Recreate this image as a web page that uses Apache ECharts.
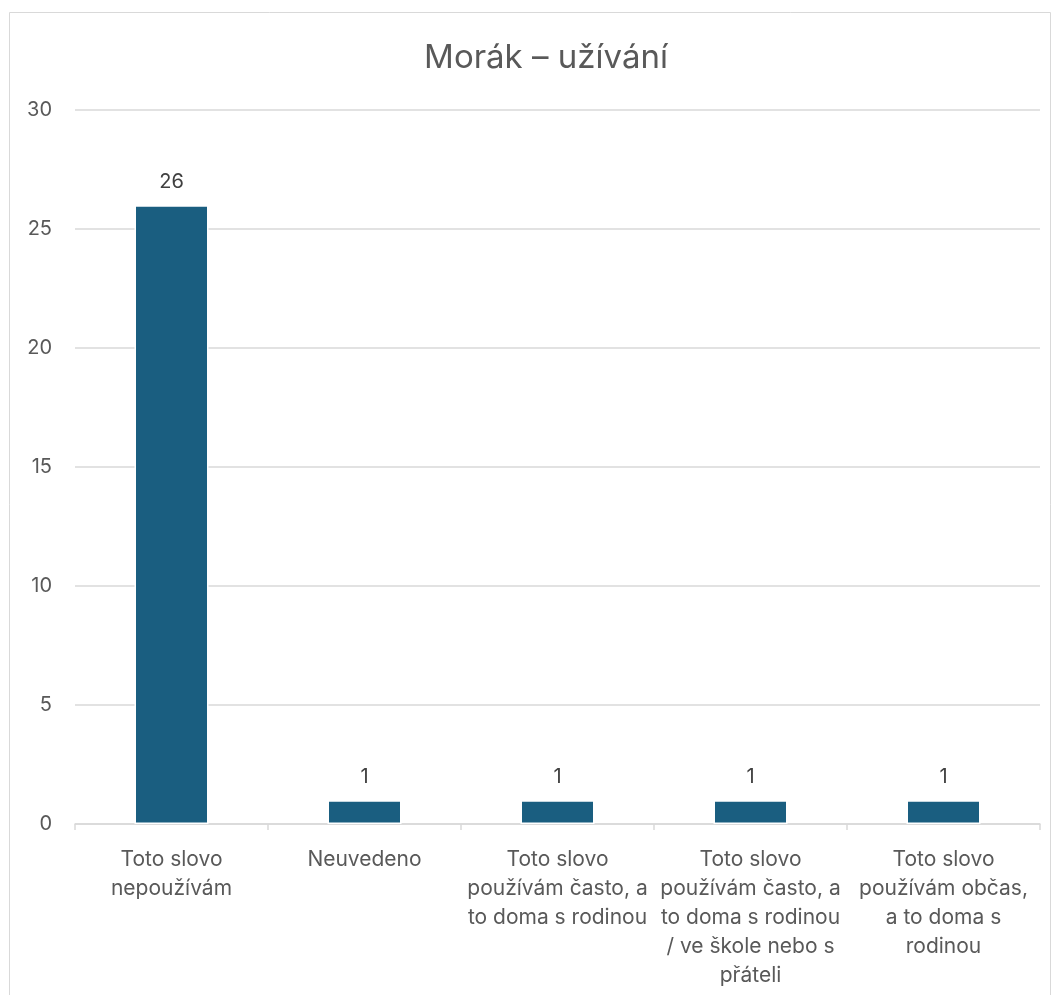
<!DOCTYPE html>
<html><head><meta charset="utf-8">
<script src="https://cdn.jsdelivr.net/npm/echarts@6/dist/echarts.min.js"></script>
<style>html,body{margin:0;padding:0;background:#fff}#c{width:1057px;height:995px}</style>
</head><body><div id="c"></div>
<script>
const titleText = 'Morák – užívání';
const categories = [
  'Toto slovo\nnepoužívám',
  'Neuvedeno',
  'Toto slovo\npoužívám často, a\nto doma s rodinou',
  'Toto slovo\npoužívám často, a\nto doma s rodinou\n/ ve škole nebo s\npřáteli',
  'Toto slovo\npoužívám občas,\na to doma s\nrodinou'
];
const values = [26, 1, 1, 1, 1];

const FONT = 'Inter, "Noto Sans", sans-serif';
const chart = echarts.init(document.getElementById('c'));
chart.setOption({
  animation: false,
  backgroundColor: '#fff',
  graphic: [{type:'rect', shape:{x:9.5,y:12.5,width:1041,height:1000}, style:{fill:'none', stroke:'#d9d9d9', lineWidth:1}, silent:true}],
  title: {text: titleText, left: 541, textAlign:'center', top: 37, textStyle:{fontFamily:FONT, fontSize:33, fontWeight:'normal', color:'#595959'}},
  grid: {left: 75, right: 17, top: 110, bottom: 171, containLabel:false},
  xAxis: {
    type:'category', data: categories,
    axisLine:{lineStyle:{color:'#d9d9d9', width:1.5}},
    axisTick:{show:true, length:6, alignWithLabel:false, lineStyle:{color:'#d9d9d9', width:1.5}},
    axisLabel:{interval:0, margin:21, color:'#595959', fontSize:21, lineHeight:29, fontFamily:FONT, align:'center'}
  },
  yAxis: {
    type:'value', min:0, max:30, interval:5,
    axisLine:{show:false}, axisTick:{show:false},
    splitLine:{lineStyle:{color:'#d9d9d9', width:1.5}},
    axisLabel:{margin:23, color:'#595959', fontSize:20, fontFamily:FONT}
  },
  series: [{
    type:'bar', data: values, barWidth:74,
    itemStyle:{color:'#1a5e80', borderColor:'#ffffff', borderWidth:1.5},
    label:{show:true, position:'top', distance:13, color:'#404040', fontSize:20, fontFamily:FONT}
  }]
});
</script></body></html>
